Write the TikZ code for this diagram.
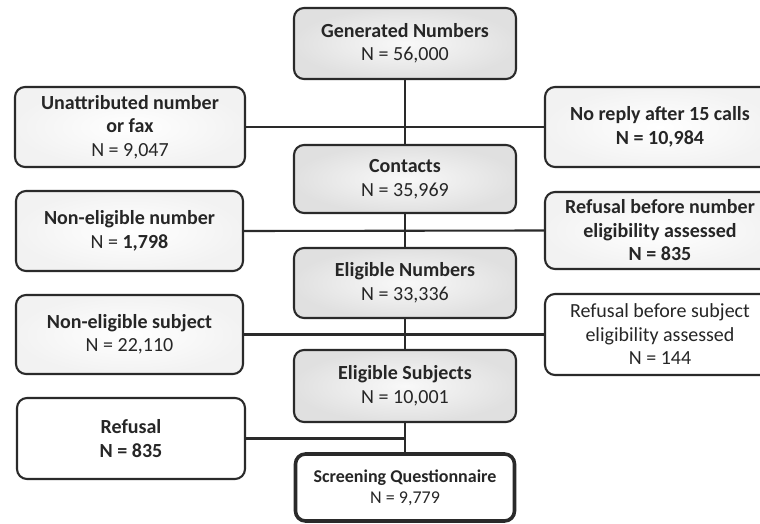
\documentclass[tikz,border=0pt]{standalone}
\usepackage{fontspec}
\setmainfont{Carlito}
\definecolor{ink}{HTML}{262626}
\definecolor{edge}{HTML}{2A2A2A}
\begin{document}
\begin{tikzpicture}[x=1pt,y=-1pt,
  box/.style={draw=edge, line width=2.1pt, rounded corners=10pt, align=center,
    text=ink, font=\fontsize{20}{23.5}\selectfont, inner sep=2pt},
  mainbox/.style={box, inner color=gray!5, outer color=gray!24, minimum width=222pt},
  sidebox/.style={box, inner color=white, outer color=gray!10},
  plainbox/.style={box, fill=white},
  link/.style={draw=edge, line width=2.1pt}]
\useasboundingbox (0,0) rectangle (760,524);
\clip (0,0) rectangle (760,524);
\node[mainbox, minimum height=71pt] (gen) at (405,43.5) {\textbf{Generated Numbers}\\N = 56,000};
\node[mainbox, minimum height=68pt] (con) at (405,179) {\textbf{Contacts}\\N = 35,969};
\node[mainbox, minimum height=70pt] (eln) at (405,283) {\textbf{Eligible Numbers}\\N = 33,336};
\node[mainbox, minimum height=72pt] (els) at (405,386) {\textbf{Eligible Subjects}\\N = 10,001};
\node[plainbox, line width=3.6pt, minimum width=219pt, minimum height=67pt, font=\fontsize{18}{21}\selectfont] (scr) at (405,487.5) {\textbf{Screening Questionnaire}\\N = 9,779};

\node[sidebox, minimum width=230pt, minimum height=80pt] (una) at (130,127) {\textbf{Unattributed number}\\\textbf{or fax}\\N = 9,047};
\node[sidebox, minimum width=230pt, minimum height=80pt] (nor) at (660,127) {\textbf{No reply after 15 calls}\\\textbf{N = 10,984}};
\node[sidebox, minimum width=227pt, minimum height=80pt] (nen) at (129.5,231) {\textbf{Non-eligible number}\\N = \textbf{1,798}};
\node[sidebox, minimum width=230pt, minimum height=77pt] (rbn) at (660,230.5) {\textbf{Refusal before number}\\\textbf{eligibility assessed}\\\textbf{N = 835}};
\node[sidebox, minimum width=227pt, minimum height=79pt] (nes) at (129.5,334.5) {\textbf{Non-eligible subject}\\N = 22,110};
\node[plainbox, minimum width=230pt, minimum height=81pt] (rbs) at (660,334.5) {Refusal before subject\\eligibility assessed\\N = 144};
\node[plainbox, minimum width=228pt, minimum height=81pt] (ref) at (131,438.5) {\textbf{Refusal}\\\textbf{N = 835}};

\path[link] (gen.south) -- (con.north);
\path[link] (con.south) -- (eln.north);
\path[link] (eln.south) -- (els.north);
\path[link] (els.south) -- (scr.north);
\path[link] (una.east) -- (nor.west);
\path[link] (nen.east) -- (rbn.west);
\path[link] (nes.east) -- (rbs.west);
\path[link] (ref.east) -| (scr.north);
\end{tikzpicture}
\end{document}
